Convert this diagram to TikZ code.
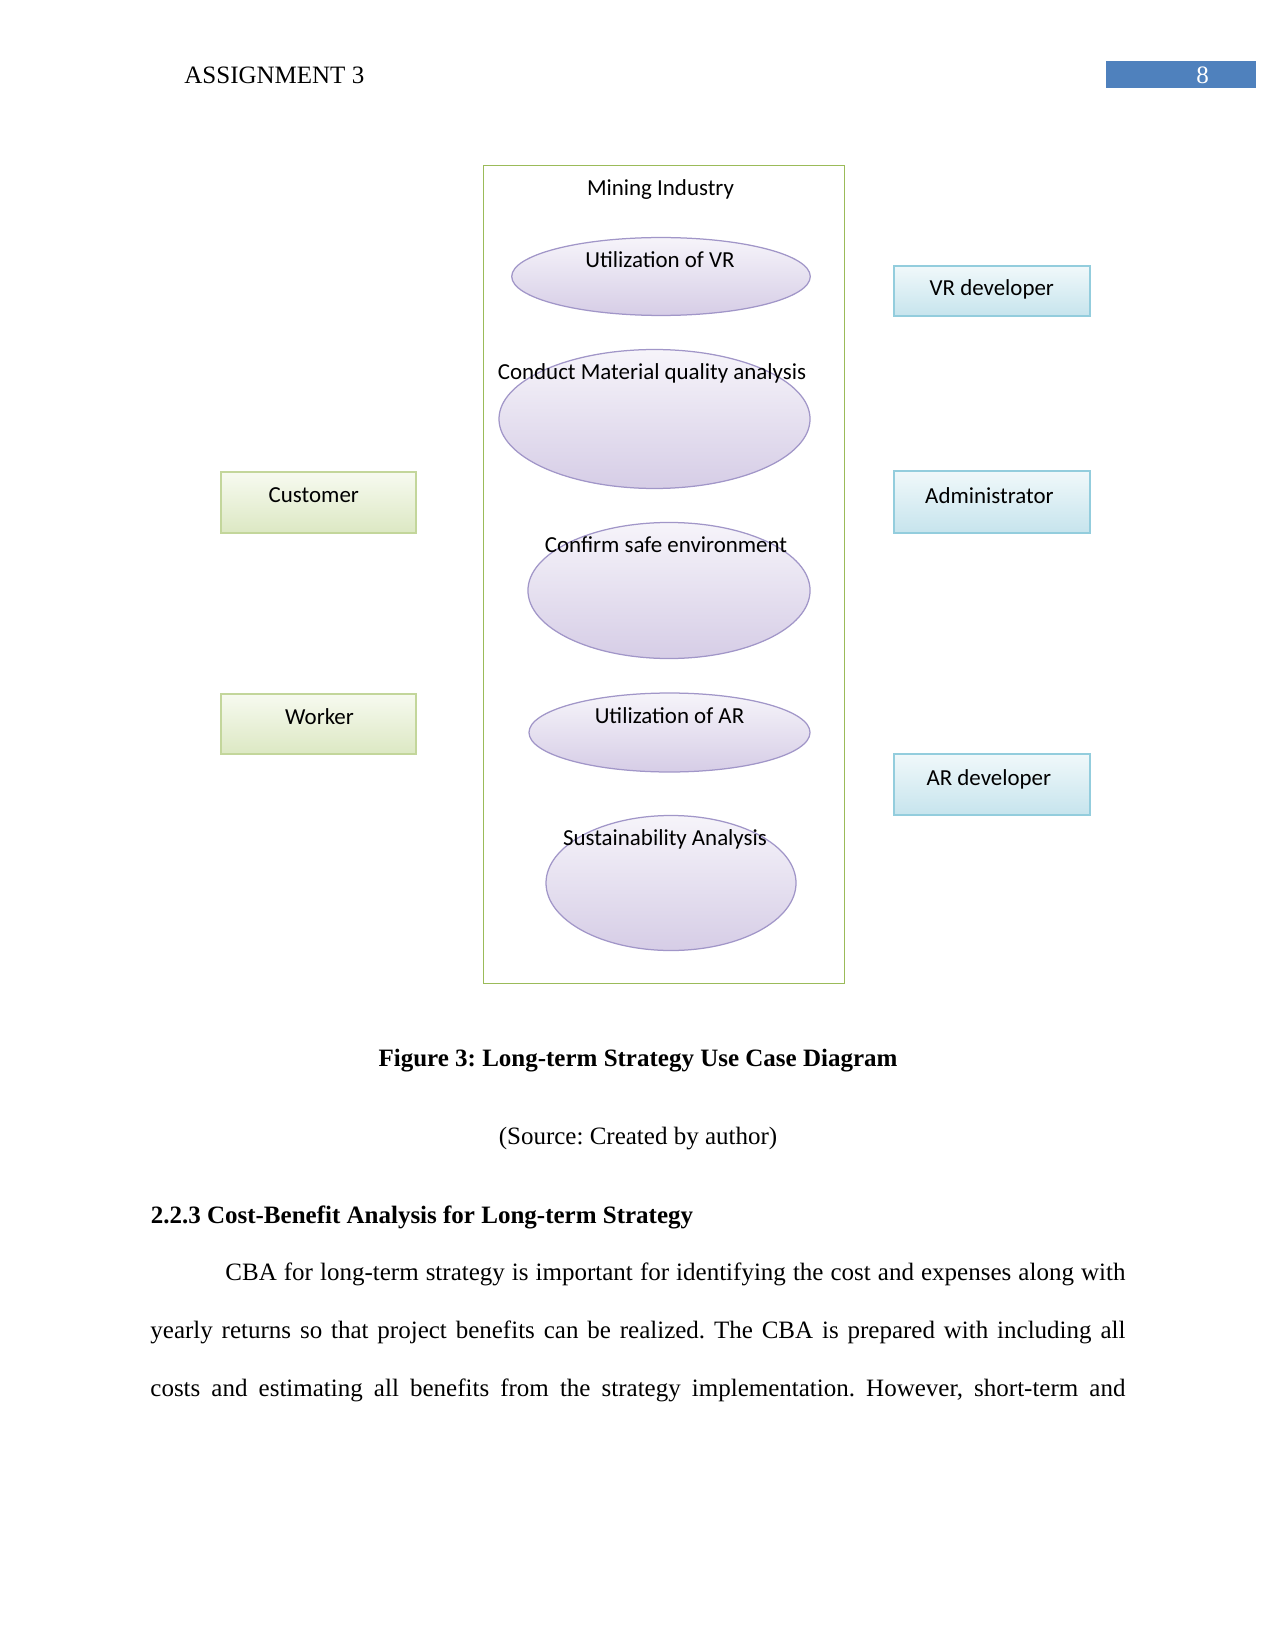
\documentclass[tikz,border=0pt]{standalone}
\usepackage{fontspec}
\setmainfont{Liberation Serif}
\newfontfamily\calibri{Carlito}
\usepackage{xcolor}
\usetikzlibrary{shapes.geometric}
\frenchspacing

\definecolor{ucline}{HTML}{A196C8}
\definecolor{uctop}{HTML}{F6F4FA}
\definecolor{ucbot}{HTML}{D6CDE6}
\definecolor{grline}{HTML}{C3D69B}
\definecolor{grtop}{HTML}{F7FAF0}
\definecolor{grbot}{HTML}{DCE8C3}
\definecolor{blline}{HTML}{93CDDD}
\definecolor{bltop}{HTML}{F0F8FA}
\definecolor{blbot}{HTML}{C6E4ED}
\definecolor{sysline}{HTML}{9BBB59}
\definecolor{pagebar}{HTML}{4F81BD}

\begin{document}
\begin{tikzpicture}[x=0.48pt, y=-0.48pt,
    usecase/.style={ellipse, draw=ucline, line width=0.6pt, top color=uctop, bottom color=ucbot, inner sep=0pt},
    actorgreen/.style={draw=grline, line width=0.9pt, top color=grtop, bottom color=grbot, inner sep=0pt, minimum width=93.7pt},
    actorblue/.style={draw=blline, line width=0.9pt, top color=bltop, bottom color=blbot, inner sep=0pt, minimum width=94.1pt},
    lbl/.style={font=\calibri\fontsize{11}{13}\selectfont, anchor=base, inner sep=0pt},
    bodyline/.style={anchor=base west, inner sep=0pt, text width=468pt, align=justify, font=\fontsize{12}{14}\selectfont}]
        \useasboundingbox (0,0) rectangle (1275,1650);

        % page header
        \node (head) [anchor=base west, inner sep=0pt, font=\fontsize{12}{14}\selectfont] at (184,84) {ASSIGNMENT 3};
        \node (bar) [fill=pagebar, inner sep=0pt, minimum width=71.7pt, minimum height=13.2pt] at (1181,74.7) {};
        \node (pagenum) [anchor=base, inner sep=0pt, text=white, font=\fontsize{12}{14}\selectfont] at (1202.5,84) {8};

        % system boundary
        \node (sys) [draw=sysline, line width=0.6pt, inner sep=0pt, minimum width=173.1pt, minimum height=392.6pt] at (664,574.5) {};
        \node (systitle) [lbl] at (660.5,196) {Mining Industry};

        % use cases
        \node (ucvr)   [usecase, minimum width=143.3pt, minimum height=37.4pt] at (661,276.5) {};
        \node (ucmat)  [usecase, minimum width=149.3pt, minimum height=66.7pt] at (654.5,419) {};
        \node (ucsafe) [usecase, minimum width=135.4pt, minimum height=65.3pt] at (669,590.5) {};
        \node (ucar)   [usecase, minimum width=134.9pt, minimum height=37.9pt] at (669.5,732.5) {};
        \node (ucsus)  [usecase, minimum width=120pt, minimum height=64.8pt] at (671,883) {};
        \node (tvr)   [lbl] at (660,268) {Utilization of VR};
        \node (tmat)  [lbl] at (652,379.5) {Conduct Material quality analysis};
        \node (tsafe) [lbl] at (666,552.7) {Confirm safe environment};
        \node (tar)   [lbl] at (669.5,723.7) {Utilization of AR};
        \node (tsus)  [lbl] at (665,845) {Sustainability Analysis};

        % actors
        \node (cust)   [actorgreen, minimum height=29.1pt] at (318.8,502.6) {};
        \node (worker) [actorgreen, minimum height=29.1pt] at (318.8,723.9) {};
        \node (vrdev)  [actorblue, minimum height=24pt] at (992,291.3) {};
        \node (admin)  [actorblue, minimum height=29.8pt] at (992,502.3) {};
        \node (ardev)  [actorblue, minimum height=29.3pt] at (992,784.8) {};
        \node (tcust)   [lbl] at (313.8,502.7) {Customer};
        \node (tworker) [lbl] at (319.5,724) {Worker};
        \node (tvrdev)  [lbl] at (991.8,296) {VR developer};
        \node (tadmin)  [lbl] at (989.4,503.5) {Administrator};
        \node (tardev)  [lbl] at (988.8,785) {AR developer};

        % caption and text below
        \node (caption) [anchor=base, inner sep=0pt, font=\bfseries\fontsize{12}{14}\selectfont] at (638,1066) {Figure 3: Long-term Strategy Use Case Diagram};
        \node (source) [anchor=base, inner sep=0pt, font=\fontsize{12}{14}\selectfont] at (638,1144.5) {(Source: Created by author)};
        \node (heading) [anchor=base west, inner sep=0pt, font=\bfseries\fontsize{12}{14}\selectfont] at (150.4,1223) {2.2.3 Cost-Benefit Analysis for Long-term Strategy};
        \node (line1) [bodyline] at (150,1280.5) {{\parfillskip=0pt \noindent\hspace*{36pt}CBA for long-term strategy is important for identifying the cost and expenses along with\par}};
        \node (line2) [bodyline] at (150,1338.5) {{\parfillskip=0pt \noindent yearly returns so that project benefits can be realized. The CBA is prepared with including all\par}};
        \node (line3) [bodyline] at (150,1396.5) {{\parfillskip=0pt \noindent costs and estimating all benefits from the strategy implementation. However, short-term and\par}};
\end{tikzpicture}
\end{document}
